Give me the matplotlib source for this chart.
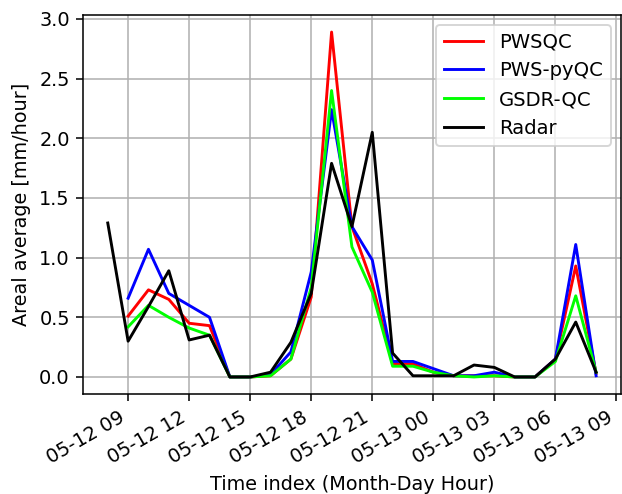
import matplotlib
matplotlib.use("Agg")
import matplotlib.pyplot as plt
import matplotlib.dates as mdates
import numpy as np
import pandas as pd

# hourly areal averages, 05-12 08:00 .. 05-13 08:00
times = pd.date_range("2021-05-12 08:00", "2021-05-13 08:00", freq="h")
radar = [1.29, 0.30, 0.59, 0.89, 0.31, 0.35, 0.00, 0.00, 0.04, 0.29, 0.70, 1.79,
         1.26, 2.05, 0.20, 0.01, 0.01, 0.01, 0.10, 0.08, 0.00, 0.00, 0.15, 0.46, 0.04]
# QC products start at 09:00
pwsqc = [np.nan, 0.51, 0.73, 0.65, 0.45, 0.43, 0.00, 0.00, 0.01, 0.15, 0.67, 2.89,
         1.26, 0.78, 0.11, 0.11, 0.04, 0.01, 0.01, 0.01, 0.00, 0.00, 0.15, 0.93, 0.03]
pwspyqc = [np.nan, 0.66, 1.07, 0.70, 0.60, 0.50, 0.00, 0.00, 0.02, 0.21, 0.88, 2.24,
           1.26, 0.98, 0.13, 0.13, 0.07, 0.01, 0.01, 0.04, 0.00, 0.00, 0.15, 1.11, 0.01]
gsdrqc = [np.nan, 0.42, 0.60, 0.50, 0.41, 0.35, 0.00, 0.00, 0.01, 0.15, 0.75, 2.40,
          1.09, 0.71, 0.09, 0.09, 0.04, 0.01, 0.00, 0.01, 0.00, 0.00, 0.13, 0.68, 0.04]

DPI = 139
fig, ax = plt.subplots(figsize=(622 / DPI, 494 / DPI), dpi=DPI)
ax.plot(times, pwsqc, color="red", lw=1.5, label="PWSQC")
ax.plot(times, pwspyqc, color="blue", lw=1.5, label="PWS-pyQC")
ax.plot(times, gsdrqc, color="lime", lw=1.5, label="GSDR-QC")
ax.plot(times, radar, color="black", lw=1.5, label="Radar")

ax.xaxis.set_major_locator(mdates.HourLocator(byhour=range(0, 24, 3)))
ax.xaxis.set_major_formatter(mdates.DateFormatter("%m-%d %H"))
for lab in ax.get_xticklabels():
    lab.set_rotation(30); lab.set_ha("right")
ax.set_xlabel("Time index (Month-Day Hour)")
ax.set_ylabel("Areal average [mm/hour]")
ax.grid(True)
ax.legend(loc="upper right", fontsize=10.2)
fig.subplots_adjust(left=0.134, right=0.9976, top=0.970, bottom=0.202)
fig.savefig("out.png", dpi=DPI)
